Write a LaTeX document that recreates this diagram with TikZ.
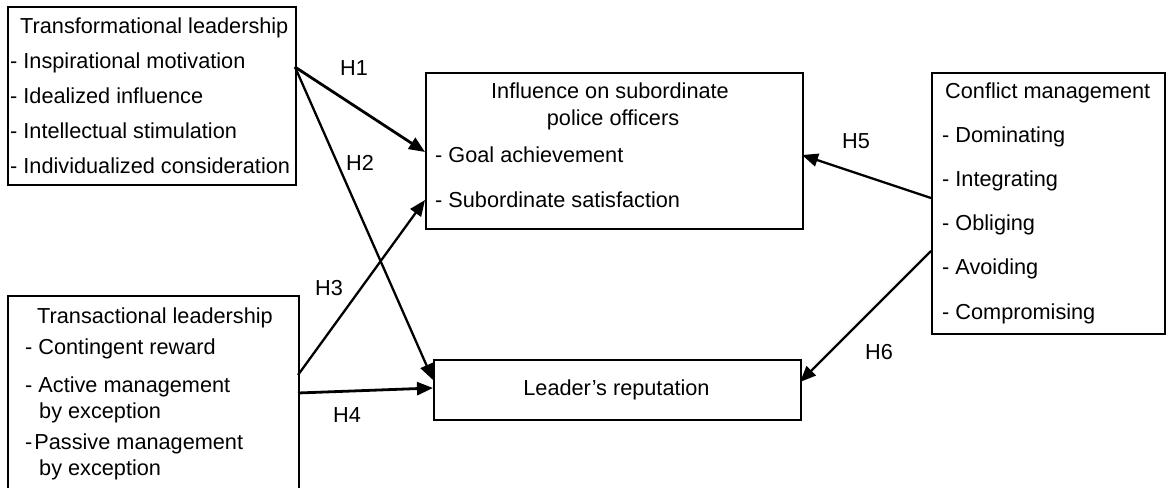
\documentclass[tikz,border=0pt]{standalone}
\usepackage{fontspec}
\setmainfont{Liberation Sans}
\usetikzlibrary{arrows.meta}
\begin{document}
\begin{tikzpicture}[x=1pt,y=-1pt,
  box/.style={draw=black,line width=2.1pt,rectangle,inner sep=0pt,anchor=north west},
  txt/.style={inner sep=0pt,anchor=base west,font=\fontsize{21.7}{26}\selectfont},
  ctxt/.style={inner sep=0pt,anchor=base,font=\fontsize{21.7}{26}\selectfont},
  hyp/.style={line width=2.8pt,-{Triangle[length=16pt,width=13pt]}},
  hypthin/.style={line width=2.3pt,-{Triangle[length=16pt,width=13pt]}}]
\path[fill=white,use as bounding box] (0,0) rectangle (1166,487);

% boxes
\node[box,minimum width=288pt,minimum height=178pt] (tf) at (7,6) {};
\node[box,minimum width=377pt,minimum height=156pt] (inf) at (425,72) {};
\node[box,minimum width=291pt,minimum height=200pt] (ta) at (7,295) {};
\node[box,minimum width=367pt,minimum height=60pt] (rep) at (433,359) {};
\node[box,minimum width=233pt,minimum height=261pt] (cm) at (931,72) {};

% transformational
\node[txt] (tf0) at (20,34) {Transformational leadership};
\node[txt] (tf1) at (10,68) {- Inspirational motivation};
\node[txt] (tf2) at (10,103) {- Idealized influence};
\node[txt] (tf3) at (10,138) {- Intellectual stimulation};
\node[txt] (tf4) at (10,173) {- Individualized consideration};

% influence
\node[ctxt] (inf0) at (610,98) {Influence on subordinate};
\node[ctxt] (inf1) at (613,125) {police officers};
\node[txt] (inf2) at (435,162) {- Goal achievement};
\node[txt] (inf3) at (435,207) {- Subordinate satisfaction};

% transactional
\node[txt] (ta0) at (37,323) {Transactional leadership};
\node[txt] (ta1) at (25,354) {- Contingent reward};
\node[txt] (ta2) at (25,392) {- Active management};
\node[txt] (ta3) at (39,418) {by exception};
\node[txt] (ta4) at (25,449) {-\hspace{2pt}Passive management};
\node[txt] (ta5) at (39,475) {by exception};

% reputation
\node[ctxt] (rep0) at (616.5,395) {Leader’s reputation};

% conflict
\node[txt] (cm0) at (945,98) {Conflict management};
\node[txt] (cm1) at (942,142) {- Dominating};
\node[txt] (cm2) at (942,186) {- Integrating};
\node[txt] (cm3) at (942,230) {- Obliging};
\node[txt] (cm4) at (942,274) {- Avoiding};
\node[txt] (cm5) at (942,319) {- Compromising};

% connector end points on box borders
\coordinate (tfout) at (295,67);
\coordinate (infA) at (425,152);
\coordinate (infB) at (425,200);
\coordinate (infC) at (802,155);
\coordinate (taA) at (298,375);
\coordinate (taB) at (298,393);
\coordinate (repA) at (433,380);
\coordinate (repB) at (433,388);
\coordinate (repC) at (800,382);
\coordinate (cmA) at (931,198);
\coordinate (cmB) at (931,251);

\draw[hyp] (tfout) -- (infA);
\draw[hypthin] (tfout) -- (repA);
\draw[hypthin] (taA) -- (infB);
\draw[hyp] (taB) -- (repB);
\draw[hypthin] (cmA) -- (infC);
\draw[hypthin] (cmB) -- (repC);

% labels
\node[txt] (h1) at (340,75) {H1};
\node[txt] (h2) at (346,170) {H2};
\node[txt] (h3) at (315,295) {H3};
\node[txt] (h4) at (333,422) {H4};
\node[txt] (h5) at (842,148) {H5};
\node[txt] (h6) at (865,359) {H6};
\end{tikzpicture}
\end{document}
